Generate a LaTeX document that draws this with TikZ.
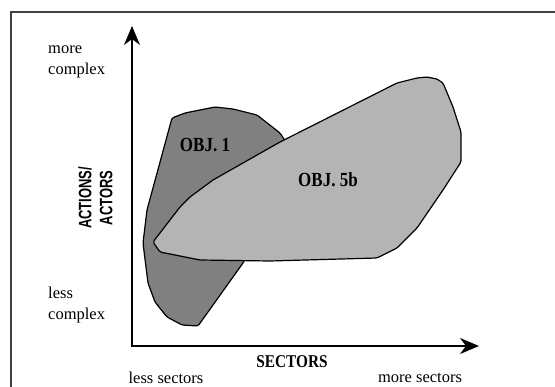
\documentclass[tikz,border=0pt]{standalone}
\usepackage{fontspec}
\setmainfont{Liberation Serif}
\newfontfamily\axsans{Liberation Sans}
\usetikzlibrary{arrows.meta}
\definecolor{darkobj}{RGB}{128,128,128}
\definecolor{lightobj}{RGB}{180,180,180}
\definecolor{framegray}{RGB}{64,64,64}
\begin{document}
\begin{tikzpicture}[x=1pt,y=-1pt,
  region/.style={draw=black, line width=1.2pt, line join=round, rounded corners=1.5pt},
  axisline/.style={draw=black, line width=1.2pt, line cap=rect},
  axistip/.tip={Stealth[length=19pt,width=16pt,inset=6pt]},
  endlabel/.style={font=\fontsize{16.5}{21}\selectfont, align=left, inner sep=0pt, anchor=west},
  bottomlabel/.style={font=\fontsize{16.5}{21}\selectfont, inner sep=0pt},
  objlabel/.style={font=\fontsize{20}{24}\selectfont\bfseries, inner sep=0pt},
  axislabel/.style={font=\fontsize{18}{21}\selectfont\bfseries, inner sep=0pt},
]
\useasboundingbox (0,0) rectangle (555,387);
% frame (top and left edges only)
\draw[framegray, line width=1.5pt] (11,387) -- (11,12) -- (555,12);

% axes
\coordinate (ytip) at (132,26);
\coordinate (origin) at (132,346);
\coordinate (xtip) at (479,346);
\draw[axisline, -axistip] (origin) -- (ytip);
\draw[axisline, -axistip] (origin) -- (xtip);

% OBJ. 1 region (dark)
\draw[region, fill=darkobj]
  (172,118) -- (185,113) -- (215,107) -- (233,109) -- (257,115) -- (280,133)
  -- (286,142) -- (250,250) -- (243,263) -- (198,326) -- (182,325)
  -- (167,317) -- (155,302) -- (148,283) -- (143,243) -- (147,210) -- cycle;

% OBJ. 5b region (light)
\draw[region, fill=lightobj]
  (153,242) -- (160,252) -- (200,260) -- (270,261) -- (377,258) -- (397,248)
  -- (417,228) -- (443,190) -- (461,162) -- (461,132) -- (453,107) -- (443,83)
  -- (437,79) -- (427,77) -- (417,78) -- (397,83) -- (280,142) -- (213,180)
  -- (190,197) -- (180,207) -- cycle;

% labels
\node[objlabel] (obj1) at (205,145) {\scalebox{0.85}[1]{OBJ. 1}};
\node[objlabel] (obj5b) at (328,180) {\scalebox{0.85}[1]{OBJ. 5b}};

\node[endlabel] (morecx) at (48,62) {more\\complex};
\node[endlabel] (lesscx) at (48,305) {less\\complex};

\node[axislabel] (sectors) at (292,362) {\scalebox{0.85}[1]{SECTORS}};
\node[bottomlabel] (lesssec) at (166,378) {less sectors};
\node[bottomlabel] (moresec) at (420,378) {more sectors};

\node[rotate=90, font=\axsans\bfseries\fontsize{18}{21}\selectfont, align=center, inner sep=0pt]
  (actions) at (95.5,198) {\scalebox{0.72}[1]{ACTIONS/}\\\scalebox{0.72}[1]{ACTORS}};
\end{tikzpicture}
\end{document}
